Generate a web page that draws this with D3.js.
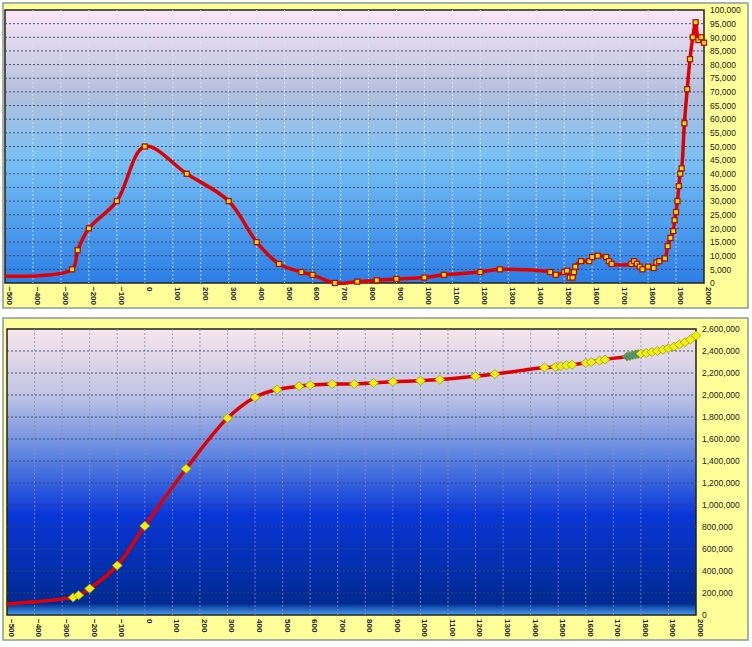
<!DOCTYPE html>
<html><head><meta charset="utf-8">
<script src="https://cdn.jsdelivr.net/npm/d3@7/dist/d3.min.js"></script>
<style>body{margin:0;background:#fff;font-family:"DejaVu Sans",sans-serif}</style>
</head><body><svg id="c" width="752" height="647"></svg>
<script>
const xTicks=[-500,-400,-300,-200,-100,0,100,200,300,400,500,600,700,800,900,1000,1100,1200,1300,1400,1500,1600,1700,1800,1900,2000];
const topYears=[-500,-260,-240,-200,-100,0,150,300,400,480,560,600,680,760,830,900,1000,1070,1200,1270,1450,1470,1500,1510,1520,1530,1535,1540,1560,1590,1600,1620,1650,1660,1670,1740,1750,1760,1770,1780,1800,1820,1830,1840,1860,1870,1880,1890,1895,1900,1905,1910,1915,1920,1930,1940,1950,1960,1970,1980,1990,2000];
const topValues=[2500,5000,12000,20000,30000,50000,40000,30000,15000,7000,4000,3000,0,500,1000,1500,2000,3000,4000,5000,4000,3000,4000,4500,2000,2000,4000,6000,8000,8000,9500,10000,9500,8000,7000,7000,8000,7000,6000,5000,6000,5500,7500,8000,9000,13500,16500,19000,23000,26000,30000,35500,40000,42000,58500,71000,82000,90000,95500,89000,90000,88000];
const botYears=[-500,-260,-240,-200,-100,0,150,300,400,480,560,600,680,760,830,900,1000,1070,1200,1270,1450,1490,1510,1530,1550,1600,1620,1650,1670,1750,1760,1770,1780,1790,1800,1820,1840,1860,1880,1900,1920,1940,1960,1980,2000];
const botValues=[100000,160000,180000,240000,450000,810000,1330000,1790000,1980000,2050000,2080000,2090000,2100000,2100000,2110000,2120000,2130000,2140000,2170000,2190000,2250000,2255000,2262000,2270000,2275000,2290000,2300000,2312000,2322000,2350000,2355000,2362000,2368000,2372000,2375000,2382000,2390000,2400000,2412000,2425000,2440000,2460000,2480000,2505000,2540000];
const topYTicks=d3.range(0,100001,5000);
const botYTicks=d3.range(0,2600001,200000);
const svg=d3.select("#c");
const defs=svg.append("defs");
function grad(id,stops){const g=defs.append("linearGradient").attr("id",id).attr("x1",0).attr("x2",0).attr("y1",0).attr("y2",1);
stops.forEach(s=>g.append("stop").attr("offset",s[0]).attr("stop-color",s[1]));}
grad("g1",[[0,"#fbe6f6"],[0.3,"#b4c0dc"],[0.55,"#78c0f4"],[1,"#2c7ee6"]]);
grad("g2",[[0,"#f8e6ec"],[0.22,"#c4c6e4"],[0.45,"#5a82e0"],[0.65,"#0a36d8"],[0.96,"#002a90"],[1,"#4aa0f0"]]);
function chart(o){
 svg.append("rect").attr("x",o.px).attr("y",o.py).attr("width",o.pw).attr("height",o.ph).attr("fill","#ffff99").attr("stroke","#8a9a9a").attr("stroke-width",1.5);
 const x=d3.scaleLinear().domain([-500,2000]).range([o.x0,o.x1]);
 const y=d3.scaleLinear().domain([0,o.ymax]).range([o.y1,o.y0]);
 svg.append("rect").attr("x",o.x0).attr("y",o.y0).attr("width",o.x1-o.x0).attr("height",o.y1-o.y0).attr("fill","url(#"+o.g+")").attr("stroke","#222").attr("stroke-width",1.5);
 const g=svg.append("g");
 g.selectAll(".v").data(xTicks.slice(1,-1)).join("line").attr("x1",d=>x(d)).attr("x2",d=>x(d)).attr("y1",o.y0).attr("y2",o.y1).attr("stroke",o.vcol).attr("stroke-dasharray","2,2").attr("stroke-width",0.8);
 g.selectAll(".h").data(o.yt.slice(1,-1)).join("line").attr("x1",o.x0).attr("x2",o.x1).attr("y1",d=>y(d)).attr("y2",d=>y(d)).attr("stroke","#334466").attr("stroke-dasharray","2,2").attr("stroke-width",0.9);
 const ax=svg.append("g").attr("transform",`translate(0,${o.y1})`).call(d3.axisBottom(x).tickValues(xTicks).tickSize(0).tickFormat(d3.format("d")));
 ax.select(".domain").remove();
 ax.selectAll("text").attr("transform","rotate(90)").attr("text-anchor","start").attr("x",4).attr("y",-4).attr("dy","0.32em").style("font-size","8px").style("font-weight","bold").attr("fill","#222");
 const ay=svg.append("g").attr("transform",`translate(${o.x1},0)`).call(d3.axisRight(y).tickValues(o.yt).tickSize(0).tickFormat(d3.format(",")));
 ay.select(".domain").remove();
 ay.selectAll("text").attr("x",6).style("font-size","8.5px").attr("fill","#222");
 const pts=o.xs.map((d,i)=>[x(d),y(o.ys[i])]);
 svg.append("path").attr("d",d3.line().curve(d3.curveCatmullRom.alpha(0.5))(pts)).attr("fill","none").attr("stroke","#e00000").attr("stroke-width",3.5);
 return {pts,x,y};
}
const a=chart({px:3,py:3,pw:745,ph:305,x0:5,x1:704,y0:10,y1:283,ymax:100000,yt:topYTicks,g:"g1",vcol:"#d8e4f4",xs:topYears,ys:topValues});
svg.append("g").selectAll("rect").data(a.pts.slice(1)).join("rect").attr("x",d=>d[0]-2.5).attr("y",d=>d[1]-2.5).attr("width",5).attr("height",5).attr("fill","#ffe000").attr("stroke","#b01010").attr("stroke-width",1.3);
const b=chart({px:3,py:318,pw:745,ph:322,x0:7,x1:696,y0:329,y1:615,ymax:2600000,yt:botYTicks,g:"g2",vcol:"#8890a8",xs:botYears,ys:botValues});
svg.append("g").selectAll("path").data(b.pts.slice(1)).join("path").attr("transform",d=>`translate(${d[0]},${d[1]})`).attr("d","M0,-4.5L5,0L0,4.5L-5,0Z")
 .attr("fill",(d,i)=>{const yr=botYears[i+1];return yr>=1750&&yr<=1790?"#3a8a8a":"#f0f010";}).attr("stroke","#a0a020").attr("stroke-width",0.8);
</script></body></html>
